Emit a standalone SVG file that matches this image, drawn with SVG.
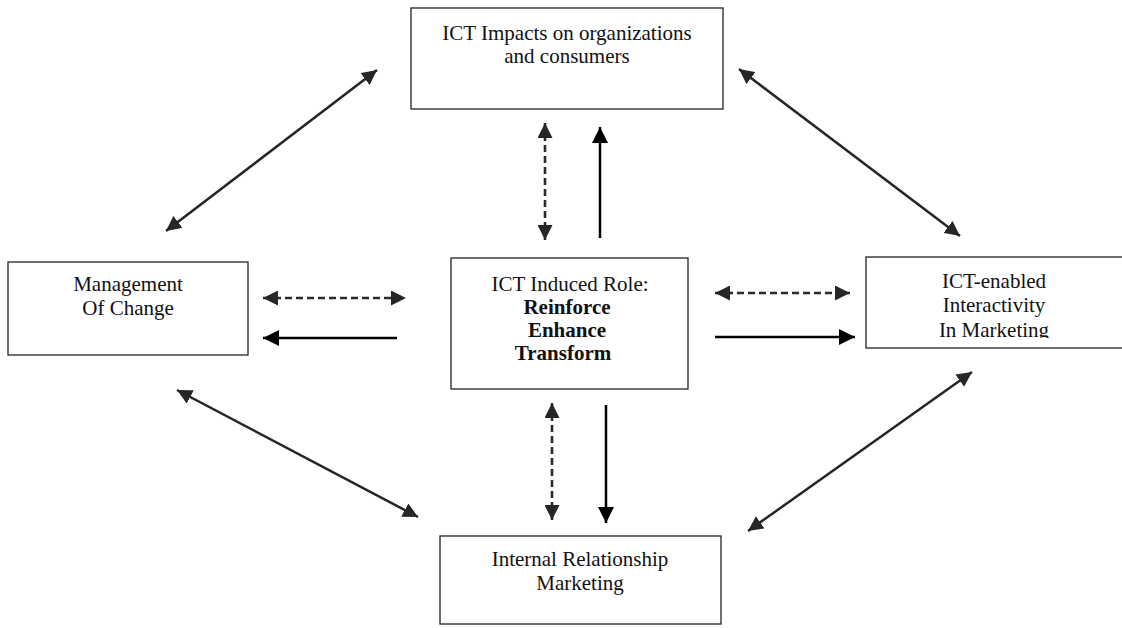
<svg xmlns="http://www.w3.org/2000/svg" width="1122" height="628" viewBox="0 0 1122 628">
<style>
.box{fill:#fff;stroke:#222;stroke-width:1.3}
.t{font-family:"Liberation Serif","Times New Roman",serif;font-size:21px;fill:#111;text-anchor:middle}
.b{font-weight:bold}
.diag{stroke:#262626;stroke-width:2.5;fill:none;marker-start:url(#ag);marker-end:url(#ag)}
.dash{stroke:#2a2a2a;stroke-width:2.6;stroke-dasharray:7,4;fill:none;marker-start:url(#ag);marker-end:url(#ag)}
.solid{stroke:#000;stroke-width:2.5;fill:none;marker-end:url(#ab)}
</style>
<defs>
<marker id="ag" markerUnits="userSpaceOnUse" markerWidth="15" markerHeight="15" refX="15" refY="7.5" orient="auto-start-reverse"><path d="M0,0 L15,7.5 L0,15 z" fill="#262626"/></marker>
<marker id="ab" markerUnits="userSpaceOnUse" markerWidth="16" markerHeight="16" refX="16" refY="8" orient="auto"><path d="M0,0 L16,8 L0,16 z" fill="#000"/></marker>
<clipPath id="rc"><rect x="866" y="257" width="256" height="81"/></clipPath>
</defs>
<rect width="1122" height="628" fill="#fff"/>
<g id="connectors">
<line class="diag" x1="166" y1="231" x2="377" y2="70"/>
<line class="diag" x1="739" y1="69" x2="960" y2="236"/>
<line class="diag" x1="177" y1="390" x2="418" y2="517"/>
<line class="diag" x1="972" y1="372" x2="748" y2="531"/>
<line class="dash" x1="545" y1="123" x2="545" y2="240"/>
<line class="solid" x1="600" y1="238" x2="600" y2="127"/>
<line class="dash" x1="552" y1="403" x2="552" y2="520"/>
<line class="solid" x1="606" y1="405" x2="606" y2="523"/>
<line class="dash" x1="263" y1="298" x2="406" y2="298"/>
<line class="solid" x1="397" y1="338" x2="263" y2="338"/>
<line class="dash" x1="715" y1="293" x2="850" y2="293"/>
<line class="solid" x1="715" y1="337" x2="855" y2="337"/>
</g>
<g id="node-top">
<rect class="box" x="411" y="8" width="312" height="101"/>
<text class="t" x="567" y="40">ICT Impacts on organizations</text>
<text class="t" x="567" y="63">and consumers</text>
</g>
<g id="node-center">
<rect class="box" x="451" y="258" width="237" height="131"/>
<text class="t" x="570" y="291">ICT Induced Role:</text>
<text class="t b" x="567" y="314">Reinforce</text>
<text class="t b" x="567" y="337">Enhance</text>
<text class="t b" x="563" y="360">Transform</text>
</g>
<g id="node-left">
<rect class="box" x="8" y="262" width="240" height="93"/>
<text class="t" x="128" y="291">Management</text>
<text class="t" x="128" y="315">Of Change</text>
</g>
<g id="node-right">
<rect class="box" x="866" y="257" width="260" height="91"/>
<g clip-path="url(#rc)">
<text class="t" x="994" y="288">ICT-enabled</text>
<text class="t" x="994" y="312">Interactivity</text>
<text class="t" x="994" y="337">In Marketing</text>
</g>
</g>
<g id="node-bottom">
<rect class="box" x="440" y="536" width="281" height="88"/>
<text class="t" x="580" y="566">Internal Relationship</text>
<text class="t" x="580" y="590">Marketing</text>
</g>
</svg>
